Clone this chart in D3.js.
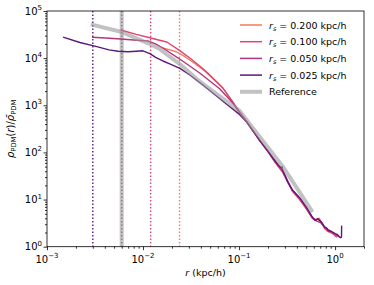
<!DOCTYPE html>
<html>
<head>
<meta charset="utf-8">
<script src="https://cdn.jsdelivr.net/npm/d3@7"></script>
<style>
  html, body { margin: 0; padding: 0; background: #fff; }
  svg { display: block; font-family: "DejaVu Sans", sans-serif; }
</style>
</head>
<body>
<svg id="chart" width="374" height="285"></svg>
<script>
// ---- data (r in kpc/h, density contrast) ----
const seriesLabels = ["0.200", "0.100", "0.050", "0.025"];
const seriesColors = ["#f57a5e", "#de4470", "#b3367c", "#5c177e"];
const softeningLines = [0.024, 0.012, 0.006, 0.003];

const rs200 = [[0.016,16400],[0.0195,14800],[0.0224,13500],[0.0265,11200],[0.0307,9120],[0.0389,6500],[0.046,4900],[0.0676,2330],[0.085,1200],[0.1014,710],[0.12,450],[0.138,295],[0.164,178],[0.2,106],[0.234,65],[0.284,39],[0.36,15],[0.427,10.5],[0.5,6.5],[0.582,4.0],[0.62,3.7],[0.65,3.9],[0.7,3.6],[0.75,2.8],[0.82,2.2],[0.9,2.0],[1.0,1.8],[1.08,1.65]];
const rs100 = [[0.00587,39500],[0.0085,32000],[0.01177,27100],[0.0145,24300],[0.01766,22000],[0.0235,15000],[0.0307,10040],[0.0389,6790],[0.046,5070],[0.0676,2350],[0.085,1230],[0.1014,720],[0.12,455],[0.138,298],[0.164,176],[0.2,104],[0.234,64],[0.284,38],[0.36,15],[0.427,10],[0.5,6.4],[0.582,4.0],[0.64,3.7],[0.68,4.0],[0.72,3.3],[0.78,2.4],[0.85,2.1],[0.92,2.0],[1.0,1.7],[1.05,1.6]];
const rs050 = [[0.00294,27700],[0.0045,26500],[0.00587,25500],[0.008,24200],[0.01122,23100],[0.0135,20000],[0.01607,16400],[0.0241,9570],[0.0389,4830],[0.0628,2250],[0.085,1150],[0.1014,690],[0.12,445],[0.138,296],[0.164,180],[0.2,106],[0.234,67],[0.284,41],[0.36,15.5],[0.427,10.8],[0.5,6.8],[0.582,4.1],[0.64,3.5],[0.7,3.3],[0.78,2.6],[0.85,2.3],[0.95,2.0],[1.05,1.75],[1.12,1.6]];
const rs025 = [[0.00147,28000],[0.0022,21500],[0.0033,17500],[0.00442,15000],[0.0055,14000],[0.00695,13700],[0.0085,14000],[0.00995,14300],[0.0118,12500],[0.0135,10400],[0.0161,8700],[0.0195,7400],[0.0242,6070],[0.0307,4380],[0.042,2690],[0.0532,1815],[0.0743,1050],[0.101,640],[0.12,440],[0.138,298],[0.164,182],[0.2,105],[0.234,69],[0.26,52],[0.275,47],[0.28,50],[0.285,42],[0.32,24],[0.36,16],[0.427,11],[0.5,7.0],[0.582,4.2],[0.62,3.6],[0.656,3.9],[0.7,3.5],[0.74,3.1],[0.78,2.6],[0.814,2.5],[0.85,2.2],[0.918,2.1],[0.96,2.0],[1.0,1.9],[1.06,1.8],[1.1,1.65],[1.14,1.55],[1.166,1.6],[1.17,2.8]];
const reference = [[0.00286,52000],[0.00587,36400],[0.00926,24500],[0.01177,20000],[0.01496,15600],[0.0241,7500],[0.0362,3600],[0.0557,1850],[0.1014,760],[0.1637,215],[0.2838,51],[0.4266,14.4],[0.582,5.4]];

const xTicks = [1e-3, 1e-2, 1e-1, 1e0];
const xTickExp = ["\u22123", "\u22122", "\u22121", "0"];
const yTicks = [1e0, 1e1, 1e2, 1e3, 1e4, 1e5];
const yTickExp = ["0", "1", "2", "3", "4", "5"];

// ---- layout ----
const svg = d3.select("#chart");
const W = 374, H = 285;
const m = {left: 47, top: 11, right: 10, bottom: 38.3};
const x = d3.scaleLog().domain([1e-3, 2]).range([m.left, W - m.right]);
const y = d3.scaleLog().domain([1, 1e5]).range([H - m.bottom, m.top]);

svg.append("defs").append("clipPath").attr("id", "clip")
  .append("rect").attr("x", m.left).attr("y", m.top)
  .attr("width", W - m.left - m.right).attr("height", H - m.top - m.bottom);

const plot = svg.append("g").attr("clip-path", "url(#clip)");

// softening vertical lines
softeningLines.forEach((v, i) => {
  plot.append("line")
    .attr("x1", x(v)).attr("x2", x(v)).attr("y1", m.top).attr("y2", H - m.bottom)
    .attr("stroke", seriesColors[i]).attr("stroke-width", 1.4)
    .attr("stroke-dasharray", "1.4,2.1");
});
// reference softening band
plot.append("line")
  .attr("x1", x(0.006)).attr("x2", x(0.006)).attr("y1", m.top).attr("y2", H - m.bottom)
  .attr("stroke", "#999").attr("stroke-opacity", 0.6).attr("stroke-width", 4);

const line = d3.line().x(d => x(d[0])).y(d => y(d[1]));
const allSeries = [rs200, rs100, rs050, rs025];
allSeries.forEach((s, i) => {
  plot.append("path").datum(s).attr("d", line)
    .attr("fill", "none").attr("stroke", seriesColors[i]).attr("stroke-width", 1.4)
    .attr("stroke-linejoin", "round");
});
plot.append("path").datum(reference).attr("d", line)
  .attr("fill", "none").attr("stroke", "#999").attr("stroke-opacity", 0.6)
  .attr("stroke-width", 4).attr("stroke-linejoin", "round");

// ---- axes ----
const minorX = [];
for (let e = -3; e <= 0; e++) for (let k = 2; k <= 9; k++) { const v = k * Math.pow(10, e); if (v <= 2) minorX.push(v); }
const minorY = [];
for (let e = 0; e < 5; e++) for (let k = 2; k <= 9; k++) minorY.push(k * Math.pow(10, e));

const xAxis = svg.append("g").attr("transform", `translate(0,${H - m.bottom})`)
  .call(d3.axisBottom(x).tickValues(xTicks).tickSize(3.5).tickFormat(""));
const xMinor = svg.append("g").attr("transform", `translate(0,${H - m.bottom})`)
  .call(d3.axisBottom(x).tickValues(minorX).tickSize(2).tickFormat(""));
const yAxis = svg.append("g").attr("transform", `translate(${m.left},0)`)
  .call(d3.axisLeft(y).tickValues(yTicks).tickSize(3.5).tickFormat(""));
const yMinor = svg.append("g").attr("transform", `translate(${m.left},0)`)
  .call(d3.axisLeft(y).tickValues(minorY).tickSize(2).tickFormat(""));
[xAxis, xMinor, yAxis, yMinor].forEach(g => {
  g.select(".domain").remove();
  g.selectAll("line").attr("stroke", "#000").attr("stroke-width", 0.8);
});

// frame
svg.append("rect").attr("x", m.left).attr("y", m.top)
  .attr("width", W - m.left - m.right).attr("height", H - m.top - m.bottom)
  .attr("fill", "none").attr("stroke", "#000").attr("stroke-width", 0.8);

// tick labels
xTicks.forEach((v, i) => {
  const t = svg.append("text").attr("x", x(v)).attr("y", H - m.bottom + 16)
    .attr("text-anchor", "middle").attr("font-size", 10).attr("fill", "#000");
  t.append("tspan").text("10");
  t.append("tspan").attr("dy", -4.5).attr("font-size", 7).text(xTickExp[i]);
});
yTicks.forEach((v, i) => {
  const t = svg.append("text").attr("x", m.left - 5).attr("y", y(v) + 3.5)
    .attr("text-anchor", "end").attr("font-size", 10).attr("fill", "#000");
  t.append("tspan").text("10");
  t.append("tspan").attr("dy", -4.5).attr("font-size", 7).text(yTickExp[i]);
});

// axis labels
const xl = svg.append("text").attr("x", (m.left + W - m.right) / 2).attr("y", 276)
  .attr("text-anchor", "middle").attr("font-size", 9.5).attr("fill", "#000");
xl.append("tspan").attr("font-style", "italic").text("r");
xl.append("tspan").text(" (kpc/h)");

const yl = svg.append("text")
  .attr("transform", `translate(14,${(m.top + H - m.bottom) / 2}) rotate(-90)`)
  .attr("text-anchor", "middle").attr("font-size", 10).attr("fill", "#000");
yl.append("tspan").attr("font-style", "italic").text("\u03c1");
yl.append("tspan").attr("font-size", 6.8).attr("dy", 2).text("PDM");
yl.append("tspan").attr("dy", -2).text("(");
yl.append("tspan").attr("font-style", "italic").text("r");
yl.append("tspan").text(")/");
yl.append("tspan").attr("font-style", "italic").text("\u03c1\u0304");
yl.append("tspan").attr("font-size", 6.8).attr("dy", 2).text("PDM");

// legend
const legX = 240, legY0 = 25, legDY = 16.7;
seriesLabels.forEach((lab, i) => {
  const yy = legY0 + i * legDY;
  svg.append("line").attr("x1", legX).attr("x2", legX + 22).attr("y1", yy).attr("y2", yy)
    .attr("stroke", seriesColors[i]).attr("stroke-width", 1.5);
  const t = svg.append("text").attr("x", legX + 29).attr("y", yy + 3.5)
    .attr("font-size", 9.5).attr("fill", "#000");
  t.append("tspan").attr("font-style", "italic").text("r");
  t.append("tspan").attr("font-style", "italic").attr("font-size", 6.5).attr("dy", 2).text("s");
  t.append("tspan").attr("dy", -2).text(" = " + lab + " kpc/h");
});
{
  const yy = legY0 + 4 * legDY;
  svg.append("line").attr("x1", legX).attr("x2", legX + 22).attr("y1", yy).attr("y2", yy)
    .attr("stroke", "#999").attr("stroke-opacity", 0.6).attr("stroke-width", 4);
  svg.append("text").attr("x", legX + 29).attr("y", yy + 3.5)
    .attr("font-size", 9.5).attr("fill", "#000").text("Reference");
}
</script>
</body>
</html>
